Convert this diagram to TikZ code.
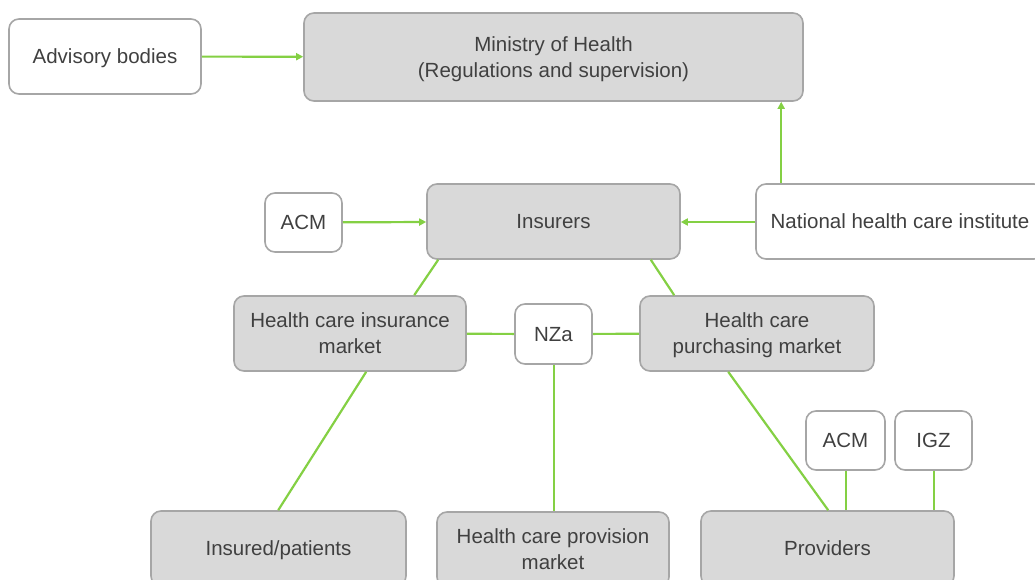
\documentclass[tikz,border=0pt]{standalone}
\usepackage{fontspec}
\setmainfont{Liberation Sans}
\usetikzlibrary{arrows.meta,calc}
\definecolor{grn}{HTML}{84D044}
\definecolor{bfill}{HTML}{D9D9D9}
\definecolor{bdraw}{HTML}{A6A6A6}
\definecolor{txt}{HTML}{404040}
\tikzset{
  base/.style={draw=bdraw,line width=1.6pt,rounded corners=10pt,align=center,
    text=txt,font=\fontsize{20.5}{26}\selectfont,inner sep=0pt,text depth=0pt},
  graybox/.style={base,fill=bfill},
  whitebox/.style={base,fill=white},
  conn/.style={draw=grn,line width=2.2pt},
  arr/.style={conn,-{Triangle[length=7pt,width=7pt]}}
}
\begin{document}
\begin{tikzpicture}[x=1pt,y=-1pt]
\useasboundingbox (0,0) rectangle (1035,580);
\node[whitebox,minimum width=192pt,minimum height=75pt] (adv) at (105,56.5) {Advisory bodies};
\node[graybox,minimum width=499pt,minimum height=88pt] (moh) at (553.5,57) {Ministry of Health\\(Regulations and supervision)};
\node[graybox,minimum width=253pt,minimum height=75pt] (ins) at (553.5,221.5) {Insurers};
\node[whitebox,minimum width=77pt,minimum height=59pt] (acm1) at (303.5,222.5) {ACM};
\node[whitebox,minimum width=288pt,minimum height=75pt] (nat) at (900,221.5) {National health care institute};
\node[graybox,minimum width=232pt,minimum height=75pt] (hcim) at (350,333.5) {Health care insurance\\market};
\node[whitebox,minimum width=77pt,minimum height=60pt] (nza) at (553.5,334) {NZa};
\node[graybox,minimum width=234pt,minimum height=75pt] (hcpm) at (757,333.5) {Health care\\purchasing market};
\node[whitebox,minimum width=79pt,minimum height=59pt] (acm2) at (845.5,440.5) {ACM};
\node[whitebox,minimum width=77pt,minimum height=59pt] (igz) at (933.5,440.5) {IGZ};
\node[graybox,minimum width=255pt,minimum height=75pt] (pat) at (278.5,548.5) {Insured/patients};
\node[graybox,minimum width=232pt,minimum height=75pt] (prov) at (553,549.5) {Health care provision\\market};
\node[graybox,minimum width=253pt,minimum height=75pt] (pvd) at (827.5,548.5) {Providers};

\draw[arr] (adv) -- (moh);
\draw[arr] (acm1) -- (ins);
\draw[arr] ($(nat.west)+(0,0.5)$) -- ($(ins.east)+(0,0.5)$);
\coordinate (natup) at ($(nat.north west)+(26,0)$);
\draw[arr] (natup) -- (natup |- moh.south);
\draw[conn] ($(ins.south west)+(12,0)$) -- ($(hcim.north west)+(181,0)$);
\draw[conn] ($(ins.south east)+(-30,0)$) -- ($(hcpm.north west)+(35,0)$);
\draw[conn] (hcim) -- (nza);
\draw[conn] (nza) -- (hcpm);
\coordinate (nzs) at ($(nza.south)+(0.5,0)$);
\draw[conn] (nzs) -- (nzs |- prov.north);
\draw[conn] ($(hcim.south west)+(133,0)$) -- ($(pat.north west)+(128,0)$);
\draw[conn] ($(hcpm.south west)+(89,0)$) -- ($(pvd.north west)+(128,0)$);
\coordinate (a2s) at ($(acm2.south)+(0.5,0)$);
\draw[conn] (a2s) -- (a2s |- pvd.north);
\coordinate (igs) at ($(igz.south)+(0.5,0)$);
\draw[conn] (igs) -- (igs |- pvd.north);
\end{tikzpicture}
\end{document}
